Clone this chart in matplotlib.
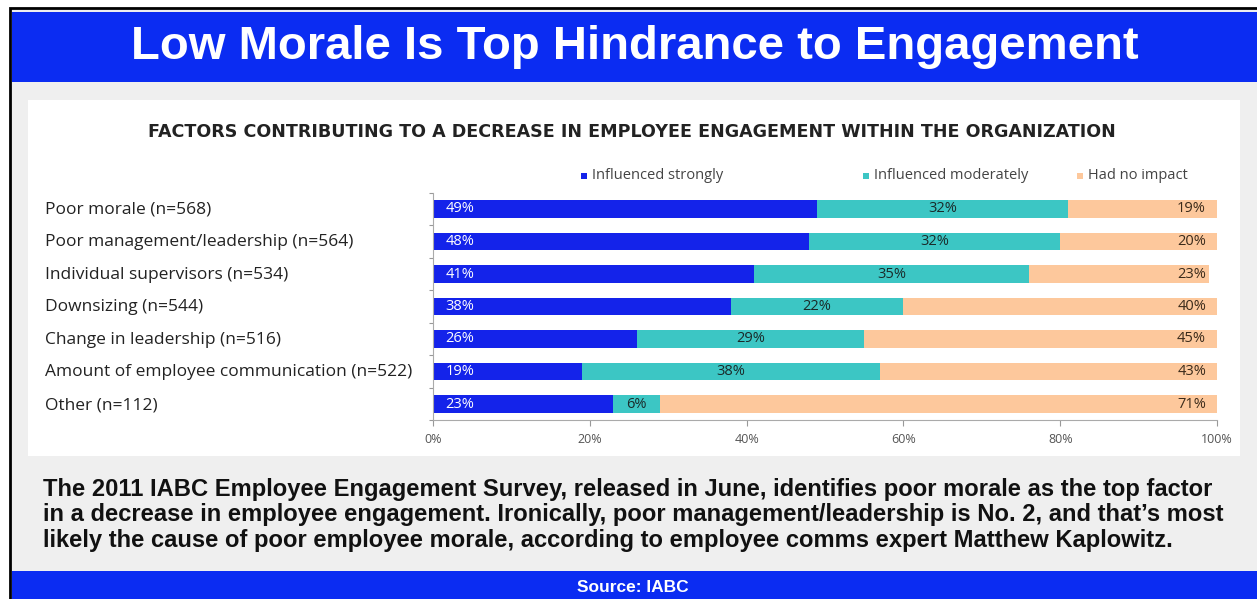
import numpy as np
import matplotlib
matplotlib.use("Agg")
import matplotlib.pyplot as plt
from matplotlib.patches import Rectangle

# survey results, share of respondents per factor
factors = ["Poor morale (n=568)",
           "Poor management/leadership (n=564)",
           "Individual supervisors (n=534)",
           "Downsizing (n=544)",
           "Change in leadership (n=516)",
           "Amount of employee communication (n=522)",
           "Other (n=112)"]
strongly = [49, 48, 41, 38, 26, 19, 23]
moderately = [32, 32, 35, 22, 29, 38, 6]
no_impact = [19, 20, 23, 40, 45, 43, 71]
series_names = ["Influenced strongly", "Influenced moderately", "Had no impact"]
ticks = [0, 20, 40, 60, 80, 100]

BLUE = "#1423ea"
TEAL = "#3cc6c4"
PEACH = "#fdc89c"
BANNER = "#0b2cf2"

W, H = 1257, 599
fig = plt.figure(figsize=(W / 100, H / 100), dpi=100)
fig.patch.set_facecolor("white")


def px_rect(x0, y0, x1, y1, **kw):
    # rectangle in pixel coords, y measured from the top
    fig.patches.append(Rectangle((x0 / W, 1 - y1 / H), (x1 - x0) / W, (y1 - y0) / H,
                                 transform=fig.transFigure, figure=fig, zorder=-5, **kw))


# frame, grey panel, white chart card and the two blue banners
px_rect(10, 8, W + 5, H + 5, facecolor="#efefef", edgecolor="black", lw=2)
px_rect(28, 100, 1240, 456, facecolor="white", edgecolor="none")
px_rect(12, 12, W, 82, facecolor=BANNER, edgecolor="none")
px_rect(12, 571, W, H, facecolor=BANNER, edgecolor="none")

fig.text(635 / W, 1 - 47 / H, "Low Morale Is Top Hindrance to Engagement",
         ha="center", va="center", color="white", fontsize=34, fontweight="bold",
         family="Liberation Sans")
fig.text(632 / W, 1 - 132 / H,
         "FACTORS CONTRIBUTING TO A DECREASE IN EMPLOYEE ENGAGEMENT WITHIN THE ORGANIZATION",
         ha="center", va="center", color="#222222", fontsize=12.65, fontweight="bold",
         family="DejaVu Sans")

body = ("The 2011 IABC Employee Engagement Survey, released in June, identifies poor morale as the top factor\n"
        "in a decrease in employee engagement. Ironically, poor management/leadership is No. 2, and that\u2019s most\n"
        "likely the cause of poor employee morale, according to employee comms expert Matthew Kaplowitz.")
fig.text(43 / W, 1 - 515 / H, body, ha="left", va="center", color="#111111",
         fontsize=17.1, fontweight="bold", family="Liberation Sans", linespacing=1.14)
fig.text(633 / W, 1 - 587 / H, "Source: IABC", ha="center", va="center",
         color="white", fontsize=12.5, fontweight="bold", family="Liberation Sans")

# stacked bar chart
ax = fig.add_axes([433 / W, 1 - 420.25 / H, 784 / W, 227.5 / H])
ax.set_facecolor("none")
y = np.arange(len(factors))
s = np.array(strongly)
m = np.array(moderately)
n = np.array(no_impact)
h = 0.53
bars = [ax.barh(y, s, height=h, color=BLUE),
        ax.barh(y, m, left=s, height=h, color=TEAL),
        ax.barh(y, n, left=s + m, height=h, color=PEACH)]

for i in range(len(factors)):
    ax.text(1.6, y[i], f"{s[i]}%", ha="left", va="center", color="white",
            fontsize=10.5, family="Open Sans")
    ax.text(s[i] + m[i] / 2, y[i], f"{m[i]}%", ha="center", va="center",
            color="#1a2a2a", fontsize=10.5, family="Open Sans")
    ax.text(98.6, y[i], f"{n[i]}%", ha="right", va="center", color="#3a2a1a",
            fontsize=10.5, family="Open Sans")

ax.set_xlim(0, 100)
ax.set_ylim(len(factors) - 0.5, -0.5)
ax.set_xticks(ticks)
ax.set_xticklabels([f"{t}%" for t in ticks], fontsize=9, color="#555555",
                   family="Open Sans")
ax.set_yticks(np.arange(len(factors) + 1) - 0.5)
ax.set_yticklabels([])
ax.tick_params(axis="x", length=4, color="#999999", pad=5)
ax.tick_params(axis="y", length=3, color="#999999", direction="out")
for side in ("top", "right"):
    ax.spines[side].set_visible(False)
for side in ("left", "bottom"):
    ax.spines[side].set_color("#aaaaaa")

# category labels sit at the card's left edge
for i, name in enumerate(factors):
    fig.text(45 / W, 1 - (210 + 32.5 * i) / H, name, ha="left", va="center",
             color="#222222", fontsize=12.5, family="Open Sans")

# legend row above the bars
legend_x = [584, 866, 1080]
for name, b, lx in zip(series_names, bars, legend_x):
    px_rect(lx - 3, 173, lx + 3, 179, facecolor=b.patches[0].get_facecolor(),
            edgecolor="none")
    fig.text((lx + 8) / W, 1 - 176 / H, name, ha="left", va="center",
             color="#444444", fontsize=10.5, family="Open Sans")

fig.savefig("out.png", dpi=100)
